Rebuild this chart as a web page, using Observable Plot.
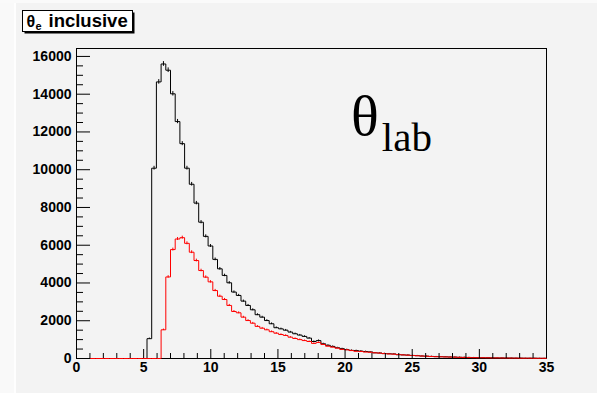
<!DOCTYPE html>
<html><head><meta charset="utf-8">
<script src="https://cdn.jsdelivr.net/npm/d3@7"></script>
<script src="https://cdn.jsdelivr.net/npm/@observablehq/plot@0.6"></script>
<style>
body{margin:0;background:#f3f3f3;}
#wrap{position:relative;width:597px;height:393px;overflow:hidden;}
#lstrip{position:absolute;left:0;top:0;width:14px;height:393px;background:#f9f9f9;border-right:2px solid #fefefe;}
#tstrip{position:absolute;left:0;top:0;width:597px;height:3px;background:#fafafa;}
#chart{position:absolute;left:0;top:0;}
#ann{position:absolute;left:0;top:0;pointer-events:none;}
</style></head>
<body><div id="wrap"><div id="lstrip"></div><div id="tstrip"></div><div id="chart"></div>
<svg id="ann" width="597" height="393">
  <rect x="24.5" y="12.5" width="110" height="21" fill="#000"></rect>
  <rect x="22.5" y="10.5" width="110" height="21" fill="#fff" stroke="#000"></rect>
  <g font-family="Liberation Sans, Arial, sans-serif" font-weight="bold" fill="#000">
    <text x="26.5" y="27" font-size="16">θ</text>
    <text x="35.5" y="29.5" font-size="11">e</text>
    <text x="48.5" y="27" font-size="18.5">inclusive</text>
  </g>
  <g font-family="Liberation Serif, Times New Roman, serif" fill="#000">
    <text x="351" y="135" font-size="58">θ<tspan font-size="41" dx="3" dy="15.7">lab</tspan></text>
  </g>
</svg>
</div>
<script>
const xMin = 0, xMax = 35, nBins = 100;
const allCounts = [
  0,0,0,0,0,0,0,0,0,0,
  0,0,0,0,0,1050,10080,14650,15600,15270,
  14020,12550,11380,10080,9230,8230,7220,6470,5960,5250,
  4750,4400,4010,3520,3340,3040,2810,2580,2320,2190,
  2010,1840,1630,1570,1500,1400,1310,1240,1170,1080,
  900,950,780,700,640,570,520,470,430,420,
  390,370,350,300,290,260,250,240,200,190,
  180,160,150,130,120,110,100,95,90,80,
  75,65,60,55,50,45,40,40,35,30,
  30,25,25,20,20,15,15,15,10,10
];
const labCounts = [
  0,0,0,0,0,0,0,0,0,0,
  0,0,0,0,0,0,0,0,1520,4320,
  5770,6330,6400,6100,5630,5190,4660,4310,4060,3600,
  3300,3125,2810,2490,2420,2190,2010,1870,1700,1605,
  1520,1420,1340,1270,1220,1130,1060,1000,950,900,
  800,850,740,650,600,545,480,460,420,380,
  370,340,330,300,285,260,240,230,210,190,
  175,160,145,130,120,105,95,90,80,75,
  70,60,55,50,45,40,40,35,30,30,
  25,25,20,20,15,15,15,10,10,10
];
const xMajorTicks = [0,5,10,15,20,25,30,35];
const yMajorTicks = [0,2000,4000,6000,8000,10000,12000,14000,16000];
const yMax = 16420;

const binW = (xMax - xMin) / nBins;
const xMinorTicks = d3.range(xMin, xMax + 0.001, 1).filter(v => !xMajorTicks.includes(Math.round(v)));
const yMinorTicks = d3.range(0, yMax, 500).filter(v => !yMajorTicks.includes(v));

function outline(counts) {
  const pts = counts.map((c, i) => ({x: xMin + i * binW, y: c}));
  pts.push({x: xMax, y: counts[counts.length - 1]});
  return pts;
}
function errBars(counts) {
  return counts.map((c, i) => ({x: xMin + (i + 0.5) * binW, y: c, e: Math.sqrt(c)})).filter(d => d.y > 0);
}

const W = 597, H = 393, mL = 76, mR = 51, mT = 48, mB = 35;
const fw = W - mL - mR, fh = H - mT - mB;

const chart = Plot.plot({
  width: W, height: H,
  marginLeft: mL, marginRight: mR, marginTop: mT, marginBottom: mB,
  style: {background: "transparent", fontFamily: "Liberation Sans, Arial, sans-serif", fontSize: "14px", fontWeight: "bold", color: "#000"},
  x: {domain: [xMin, xMax], ticks: xMajorTicks, tickSize: 0, tickPadding: 4, tickFormat: d3.format("d"), label: null},
  y: {domain: [0, yMax], ticks: yMajorTicks, tickSize: 0, tickPadding: 5, tickFormat: d3.format("d"), label: null},
  marks: [
    Plot.frame({stroke: "#000", strokeWidth: 1}),
    Plot.line(outline(allCounts), {x: "x", y: "y", curve: "step-after", stroke: "#000", strokeWidth: 1}),
    Plot.ruleX(errBars(allCounts), {x: "x", y1: d => d.y - d.e, y2: d => d.y + d.e, stroke: "#000", strokeWidth: 1}),
    Plot.line(outline(labCounts), {x: "x", y: "y", curve: "step-after", stroke: "#ff0000", strokeWidth: 1}),
    Plot.ruleX(errBars(labCounts), {x: "x", y1: d => d.y - d.e, y2: d => d.y + d.e, stroke: "#ff0000", strokeWidth: 1}),
    Plot.tickY(yMajorTicks, {y: d => d, insetRight: fw - 14, stroke: "#000"}),
    Plot.tickY(yMinorTicks, {y: d => d, insetRight: fw - 7, stroke: "#000"}),
    Plot.tickX(xMajorTicks, {x: d => d, insetTop: fh - 9, stroke: "#000"}),
    Plot.tickX(xMinorTicks, {x: d => d, insetTop: fh - 5, stroke: "#000"})
  ]
});
document.getElementById("chart").appendChild(chart);
</script>
</body></html>
